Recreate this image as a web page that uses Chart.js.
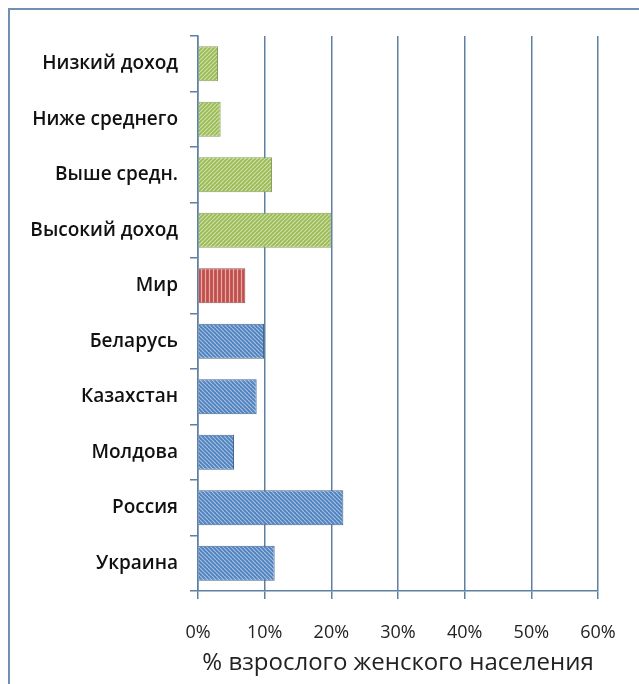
<!DOCTYPE html>
<html lang="ru">
<head>
  <meta charset="UTF-8">
  <title>Доля взрослого женского населения</title>
  <script src="https://cdn.jsdelivr.net/npm/chart.js"></script>
  <style>
    html, body { margin: 0; padding: 0; background: #fff; overflow: hidden; }
    .frame {
      position: absolute; left: 8px; top: 8px; width: 700px; height: 700px;
      border-left: 2px solid #6f8fb3; border-top: 2px solid #6f8fb3;
    }
    .wrap { position: absolute; left: 0; top: 0; width: 639px; height: 684px; }
  </style>
</head>
<body>
<div class="frame"></div>
<div class="wrap"><canvas id="grafico" width="639" height="684"></canvas></div>

<script>
  // Категории и значения (% взрослого женского населения)
  const categorias = ['Низкий доход', 'Ниже среднего', 'Выше средн.', 'Высокий доход', 'Мир',
                      'Беларусь', 'Казахстан', 'Молдова', 'Россия', 'Украина'];
  const valores = [3.0, 3.4, 11.1, 20.0, 7.1, 9.9, 8.8, 5.4, 21.8, 11.5];
  // группа каждой строки: доходная группа, мир или страна
  const grupos = ['renda', 'renda', 'renda', 'renda', 'mundo',
                  'pais', 'pais', 'pais', 'pais', 'pais'];
  const ticksX = [0, 10, 20, 30, 40, 50, 60];

  // штриховка столбцов (плитка = шаг штриха, чтобы линии стыковались)
  function hachura(fundo, linha, tipo) {
    const p = 4;
    const c = document.createElement('canvas');
    c.width = p; c.height = p;
    const g = c.getContext('2d');
    g.fillStyle = fundo;
    g.fillRect(0, 0, p, p);
    g.strokeStyle = linha;
    g.lineWidth = 1.2;
    g.beginPath();
    if (tipo === 'vertical') {
      g.moveTo(1.5, 0); g.lineTo(1.5, p);
    } else if (tipo === 'barra') {
      // "/"
      for (let k = -p; k <= p; k += p) { g.moveTo(k, p); g.lineTo(k + p, 0); }
    } else {
      // "\"
      for (let k = -p; k <= p; k += p) { g.moveTo(k, 0); g.lineTo(k + p, p); }
    }
    g.stroke();
    return g.createPattern(c, 'repeat');
  }

  const estilos = {
    renda: { fill: hachura('#9bbb59', '#cfe0a6', 'barra'), borda: '#879f62' },
    mundo: { fill: hachura('#c0504d', '#eaa9a7', 'vertical'), borda: '#985655' },
    pais:  { fill: hachura('#4f81bd', '#a3c0e2', 'contra'), borda: '#46688f' }
  };

  const corGrade = '#5f7fa3';

  new Chart(document.getElementById('grafico').getContext('2d'), {
    type: 'bar',
    data: {
      labels: categorias,
      datasets: [{
        data: valores,
        backgroundColor: grupos.map(g => estilos[g].fill),
        borderColor: grupos.map(g => estilos[g].borda),
        borderWidth: 1,
        categoryPercentage: 1,
        barPercentage: 0.63
      }]
    },
    options: {
      indexAxis: 'y',
      responsive: false,
      animation: false,
      layout: { padding: { left: 0, top: 36, right: 41, bottom: 0 } },
      plugins: { legend: { display: false }, tooltip: { enabled: false } },
      scales: {
        x: {
          min: 0, max: 60,
          afterBuildTicks: axis => { axis.ticks = ticksX.map(v => ({ value: v })); },
          afterFit: axis => { axis.height = 93; },
          border: { color: corGrade, width: 1.5 },
          grid: { color: corGrade, lineWidth: 1.5, tickLength: 8 },
          ticks: {
            padding: 23,
            color: '#222',
            font: { family: 'Open Sans', size: 18 },
            callback: v => v + '%'
          },
          title: {
            display: true,
            text: '% взрослого женского населения',
            color: '#222',
            font: { family: 'Open Sans', size: 24 },
            padding: { top: 0, bottom: 6 }
          }
        },
        y: {
          offset: true,
          afterFit: axis => { axis.width = 198; },
          border: { color: corGrade, width: 1.5 },
          grid: { offset: true, drawOnChartArea: false, color: corGrade, lineWidth: 1.5, tickLength: 8 },
          ticks: {
            padding: 12,
            color: '#111',
            font: { family: 'Open Sans', size: 19, weight: '600' }
          }
        }
      }
    }
  });
</script>
</body>
</html>
